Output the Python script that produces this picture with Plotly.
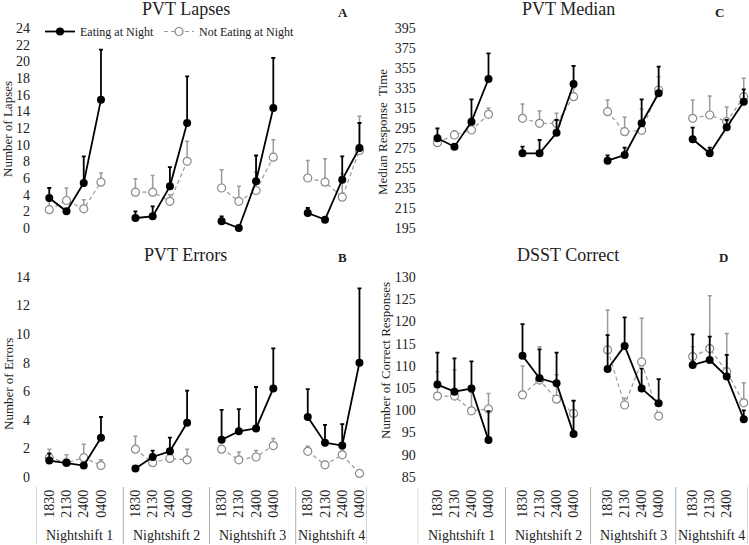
import plotly.graph_objects as go

W, H = 749, 545
FONT = "Liberation Serif"

times = ["1830", "2130", "2400", "0400"]
shifts = ["Nightshift 1", "Nightshift 2", "Nightshift 3", "Nightshift 4"]

# PVT lapses (means and upper SE), 4 nightshifts x 4 times
lapses_eat = [3.6, 2.0, 5.4, 15.4, 1.2, 1.4, 5.0, 12.6, 0.8, 0.0, 5.6, 14.4, 1.8, 1.0, 5.8, 9.6]
lapses_eat_se = [1.2, 0.3, 3.2, 6.0, 0.8, 1.2, 2.3, 5.6, 0.6, 0.0, 3.1, 6.0, 0.6, 0.0, 2.8, 3.0]
lapses_not = [2.2, 3.3, 2.3, 5.5, 4.3, 4.3, 3.2, 8.0, 4.8, 3.2, 4.5, 8.5, 6.0, 5.5, 3.7, 9.3]
lapses_not_se = [1.0, 1.5, 1.1, 1.1, 1.6, 2.0, 0.8, 2.4, 2.2, 1.8, 2.2, 2.1, 2.1, 2.8, 2.8, 4.1]

# PVT median response time
median_eat = [284.7, 276.3, 301.3, 344.0, 269.7, 269.7, 290.3, 339.0,
              262.3, 268.0, 299.7, 329.7, 283.7, 269.7, 295.7, 321.3]
median_eat_se = [10.0, 1.0, 22.4, 25.7, 6.6, 13.3, 12.7, 18.0, 5.4, 7.3, 24.0, 26.6, 11.6, 5.6, 7.3, 12.4]
median_not = [280.3, 288.0, 293.0, 308.7, 304.7, 299.7, 299.7, 326.3,
              311.3, 291.3, 292.7, 333.0, 304.7, 308.0, 301.3, 326.3]
median_not_se = [7.7, 4.3, 5.0, 6.0, 14.3, 12.3, 10.0, 8.7, 11.7, 14.4, 21.3, 13.3, 18.3, 19.0, 14.7, 18.4]

# PVT errors
errors_eat = [1.15, 1.0, 0.8, 2.75, 0.6, 1.4, 1.8, 3.8, 2.6, 3.2, 3.4, 6.2, 4.2, 2.4, 2.2, 8.0]
errors_eat_se = [0.5, 0.2, 0.0, 1.45, 0.0, 0.45, 0.95, 2.25, 2.1, 1.55, 2.9, 2.8, 1.95, 1.25, 1.5, 5.2]
errors_not = [1.35, 1.0, 1.35, 0.8, 1.95, 1.0, 1.3, 1.2, 1.95, 1.2, 1.4, 2.2, 1.8, 0.85, 1.55, 0.25]
errors_not_se = [0.6, 0.55, 0.95, 0.4, 0.9, 0.3, 0.5, 0.75, 0.2, 0.55, 0.45, 0.5, 0.35, 0.25, 0.35, 0.0]

# DSST correct responses
dsst_eat = [105.8, 104.2, 104.9, 93.3, 112.3, 107.2, 106.1, 94.7,
            109.3, 114.5, 104.9, 101.6, 110.2, 111.3, 107.6, 98.0]
dsst_eat_se = [7.2, 7.5, 6.1, 6.5, 7.1, 6.5, 6.9, 7.5, 7.6, 6.4, 4.5, 5.4, 6.9, 5.3, 4.9, 2.0]
dsst_not = [103.2, 103.2, 99.9, 100.3, 103.5, 106.8, 102.5, 99.3,
            113.6, 101.2, 110.9, 98.7, 112.1, 113.9, 108.7, 101.7]
dsst_not_se = [5.5, 5.9, 4.1, 3.5, 6.5, 7.5, 5.5, 2.8, 9.0, 1.5, 9.8, 0.0, 2.2, 11.9, 8.6, 4.5]


def gapped(vals):
    """Split the 16 values into 4 nightshift runs so lines don't join across shifts."""
    out = []
    for g in range(len(shifts)):
        out += list(vals[g * 4:(g + 1) * 4]) + [None]
    return out


slot_x = gapped([g * 5 + i for g in range(len(shifts)) for i in range(len(times))])


def px_x(p):
    return p / W


def px_y(p):
    return 1 - p / H


fig = go.Figure()


def add_panel(n, eat, eat_se, not_, not_se, show):
    xa, ya = f"x{n}" if n > 1 else "x", f"y{n}" if n > 1 else "y"
    fig.add_trace(go.Scatter(
        x=slot_x, y=gapped(not_), xaxis=xa, yaxis=ya, name="Not Eating at Night",
        mode="lines+markers", showlegend=show, legendrank=2, cliponaxis=False,
        line=dict(color="#9a9a9a", width=1.2, dash="4px,3px"),
        marker=dict(symbol="circle", size=8, color="white",
                    line=dict(color="#8a8a8a", width=1.2)),
        error_y=dict(type="data", symmetric=False, array=gapped(not_se),
                     arrayminus=gapped([0] * 16), color="#9a9a9a", thickness=1.5, width=2),
    ))
    fig.add_trace(go.Scatter(
        x=slot_x, y=gapped(eat), xaxis=xa, yaxis=ya, name="Eating at Night",
        mode="lines+markers", showlegend=show, legendrank=1, cliponaxis=False,
        line=dict(color="black", width=1.8),
        marker=dict(symbol="circle", size=8, color="black"),
        error_y=dict(type="data", symmetric=False, array=gapped(eat_se),
                     arrayminus=gapped([0] * 16), color="black", thickness=1.8, width=2),
    ))


add_panel(1, lapses_eat, lapses_eat_se, lapses_not, lapses_not_se, True)
add_panel(2, median_eat, median_eat_se, median_not, median_not_se, False)
add_panel(3, errors_eat, errors_eat_se, errors_not, errors_not_se, False)
add_panel(4, dsst_eat, dsst_eat_se, dsst_not, dsst_not_se, False)

# pixel layout of the four panels
left_dom = [px_x(36), px_x(366.7)]
left_rng = [-0.77, 18.42]
right_dom = [px_x(417.7), px_x(748)]
right_rng = [-1.16, 18.25]
top_dom = [px_y(228), px_y(28)]
bot_dom = [px_y(477), px_y(277)]

tickvals = [g * 5 + i for g in range(len(shifts)) for i in range(len(times))]
ticktext = times * len(shifts)

xbase = dict(showgrid=False, zeroline=False, showline=False, ticks="", automargin=False)
ybase = dict(showgrid=False, zeroline=False, showline=False, ticks="", automargin=False,
             tickfont=dict(family=FONT, size=14, color="#222"))

fig.update_layout(
    width=W, height=H,
    margin=dict(l=0, r=0, t=0, b=0, pad=0, autoexpand=False),
    paper_bgcolor="white", plot_bgcolor="white",
    font=dict(family=FONT, color="#222"),
    xaxis=dict(xbase, domain=left_dom, range=left_rng, anchor="y", showticklabels=False),
    yaxis=dict(ybase, domain=top_dom, range=[0, 24], anchor="x", tickvals=list(range(0, 25, 2)),
               ticklabelstandoff=5),
    xaxis2=dict(xbase, domain=right_dom, range=right_rng, anchor="y2", showticklabels=False),
    yaxis2=dict(ybase, domain=top_dom, range=[195, 395], anchor="x2",
                tickvals=list(range(195, 396, 20)), ticklabelstandoff=1),
    xaxis3=dict(xbase, domain=left_dom, range=left_rng, anchor="y3",
                tickvals=tickvals, ticktext=ticktext, tickangle=-90, ticklabelstandoff=9,
                tickfont=dict(family=FONT, size=14, color="#222")),
    yaxis3=dict(ybase, domain=bot_dom, range=[0, 14], anchor="x3", tickvals=list(range(0, 15, 2)),
                ticklabelstandoff=5),
    xaxis4=dict(xbase, domain=right_dom, range=right_rng, anchor="y4",
                tickvals=tickvals, ticktext=ticktext, tickangle=-90, ticklabelstandoff=9,
                tickfont=dict(family=FONT, size=14, color="#222")),
    yaxis4=dict(ybase, domain=bot_dom, range=[85, 130], anchor="x4",
                tickvals=list(range(85, 131, 5)), ticklabelstandoff=1),
    legend=dict(orientation="h", x=px_x(40), y=px_y(17), xanchor="left", yanchor="top",
                font=dict(family=FONT, size=12, color="#222"), bgcolor="rgba(0,0,0,0)",
                itemwidth=30, tracegroupgap=0),
)

# panel titles, letters and y-axis titles
titles = [("PVT Lapses", 186, 9), ("PVT Median", 568, 9), ("PVT Errors", 185, 255), ("DSST Correct", 568, 255)]
for text, x, y in titles:
    fig.add_annotation(text=text, x=px_x(x), y=px_y(y), xref="paper", yref="paper",
                       xanchor="center", yanchor="middle", showarrow=False,
                       font=dict(family=FONT, size=18, color="#222"))
letters = [("A", 343, 12), ("C", 719, 12), ("B", 342, 257), ("D", 723, 257)]
for text, x, y in letters:
    fig.add_annotation(text=f"<b>{text}</b>", x=px_x(x), y=px_y(y), xref="paper", yref="paper",
                       xanchor="center", yanchor="middle", showarrow=False,
                       font=dict(family=FONT, size=13, color="#222"))
ytitles = [("Number of Lapses", 8, 129), ("Median Response  Time", 382, 132),
           ("Number of Errors", 8, 384), ("Number of Correct Responses", 385, 360)]
for text, x, y in ytitles:
    fig.add_annotation(text=text, x=px_x(x), y=px_y(y), xref="paper", yref="paper",
                       xanchor="center", yanchor="middle", showarrow=False, textangle=-90,
                       font=dict(family=FONT, size=13, color="#222"))

# nightshift group separators and labels under the bottom panels
for xa, off, rng in (("x3", -0.7, left_rng), ("x4", -1.0, right_rng)):
    seps = [g * 5 + off for g in range(len(shifts))] + [rng[1]]
    seps[0] = rng[0]
    for s in seps:
        fig.add_shape(type="line", xref=xa, yref="paper", x0=s, x1=s,
                      y0=px_y(487), y1=px_y(544), line=dict(color="#b0b0b0", width=1))
    for g, name in enumerate(shifts):
        fig.add_annotation(text=name, x=(seps[g] + seps[g + 1]) / 2, y=px_y(535), xref=xa,
                           yref="paper", xanchor="center", yanchor="middle", showarrow=False,
                           font=dict(family=FONT, size=14, color="#222"))

# drop the page's default body margin so the figure fills the window exactly
fig.write_html("out.html", config={"displayModeBar": False},
               post_script="document.body.style.margin='0';")
